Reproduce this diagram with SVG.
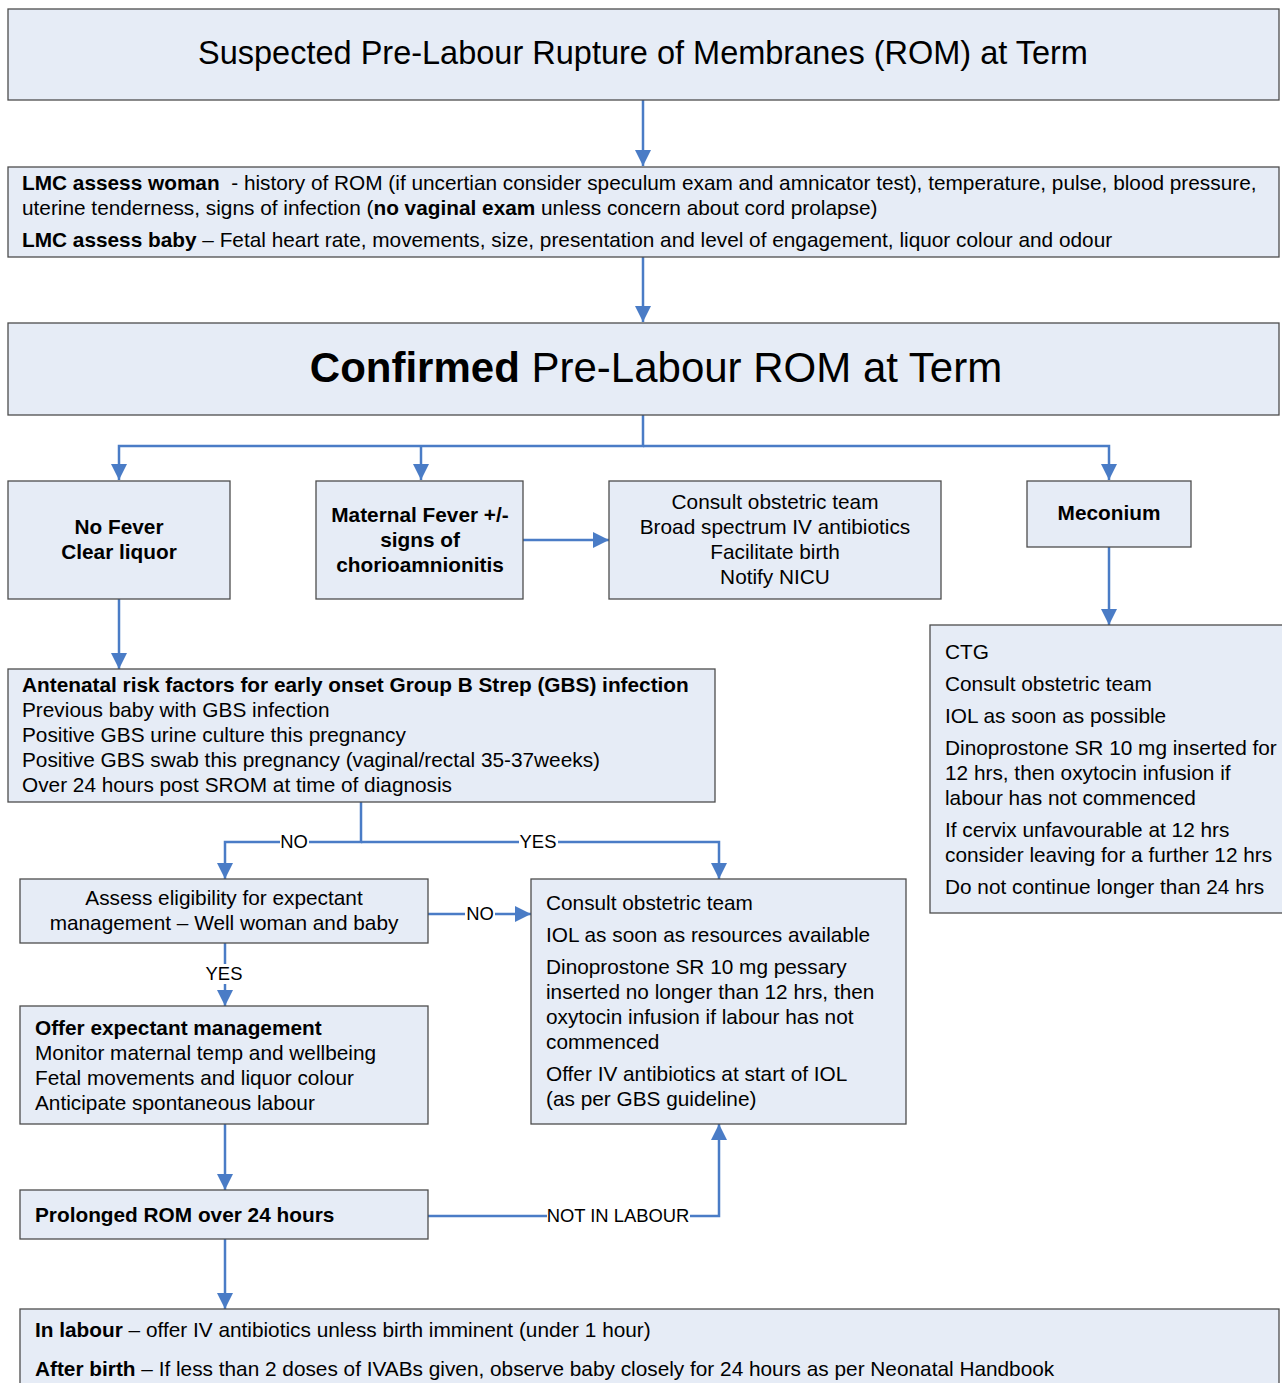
<svg xmlns="http://www.w3.org/2000/svg" width="1282" height="1383" viewBox="0 0 1282 1383">
<style>
.box{fill:#E6ECF6;stroke:#4d4d4d;stroke-width:1.3}
text{font-family:"Liberation Sans",Arial,sans-serif;font-size:20.8px;fill:#000}
.b{font-weight:bold}
.c{text-anchor:middle}
.ln{fill:none;stroke:#4A7CC6;stroke-width:2.5}
.lbl{font-size:18.4px}
</style>
<defs>
<marker id="ah" markerUnits="userSpaceOnUse" markerWidth="18" markerHeight="18" refX="16" refY="8" orient="auto">
<path d="M0,0 L16,8 L0,16 Z" fill="#4A7CC6"/>
</marker>
</defs>
<g id="connectors">
<line class="ln" x1="643" y1="100" x2="643" y2="166" marker-end="url(#ah)"/>
<line class="ln" x1="643" y1="257" x2="643" y2="322" marker-end="url(#ah)"/>
<polyline class="ln" points="643,415 643,446 119,446 119,480" marker-end="url(#ah)"/>
<polyline class="ln" points="421,446 421,480" marker-end="url(#ah)"/>
<polyline class="ln" points="643,446 1109,446 1109,480" marker-end="url(#ah)"/>
<line class="ln" x1="523" y1="540" x2="609" y2="540" marker-end="url(#ah)"/>
<line class="ln" x1="1109" y1="547" x2="1109" y2="625" marker-end="url(#ah)"/>
<line class="ln" x1="119" y1="599" x2="119" y2="669" marker-end="url(#ah)"/>
<polyline class="ln" points="361,802 361,842 225,842 225,879" marker-end="url(#ah)"/>
<polyline class="ln" points="361,842 719,842 719,879" marker-end="url(#ah)"/>
<line class="ln" x1="428" y1="914" x2="531" y2="914" marker-end="url(#ah)"/>
<line class="ln" x1="225" y1="943" x2="225" y2="1006" marker-end="url(#ah)"/>
<line class="ln" x1="225" y1="1124" x2="225" y2="1190" marker-end="url(#ah)"/>
<polyline class="ln" points="428,1216 719,1216 719,1124" marker-end="url(#ah)"/>
<line class="ln" x1="225" y1="1239" x2="225" y2="1309" marker-end="url(#ah)"/>
<g class="lbls">
<rect x="280" y="832" width="29" height="20" fill="#fff"/>
<text class="c lbl" x="294" y="848">NO</text>
<rect x="519" y="832" width="39" height="20" fill="#fff"/>
<text class="c lbl" x="538" y="848">YES</text>
<rect x="465" y="904" width="30" height="20" fill="#fff"/>
<text class="c lbl" x="480" y="920">NO</text>
<rect x="204" y="964" width="40" height="20" fill="#fff"/>
<text class="c lbl" x="224" y="980">YES</text>
<rect x="547" y="1206" width="143" height="20" fill="#fff"/>
<text class="c lbl" x="618" y="1222">NOT IN LABOUR</text>
</g>
</g>
<g id="n1">
<rect class="box" x="8" y="9" width="1271" height="91"/>
<text class="c" x="643" y="64" style="font-size:32.5px">Suspected Pre-Labour Rupture of Membranes (ROM) at Term</text>
</g>
<g id="n2">
<rect class="box" x="8" y="167" width="1271" height="90"/>
<text x="22" y="190"><tspan class="b">LMC assess woman</tspan>&#160; - history of ROM (if uncertian consider speculum exam and amnicator test), temperature, pulse, blood pressure,</text>
<text x="22" y="215">uterine tenderness, signs of infection (<tspan class="b">no vaginal exam</tspan> unless concern about cord prolapse)</text>
<text x="22" y="247"><tspan class="b">LMC assess baby</tspan> – Fetal heart rate, movements, size, presentation and level of engagement, liquor colour and odour</text>
</g>
<g id="n3">
<rect class="box" x="8" y="323" width="1271" height="92"/>
<text class="c" x="656" y="382" style="font-size:42px"><tspan class="b">Confirmed</tspan> Pre-Labour ROM at Term</text>
</g>
<g id="n4">
<rect class="box" x="8" y="481" width="222" height="118"/>
<text class="c b" x="119" y="534">No Fever</text>
<text class="c b" x="119" y="559">Clear liquor</text>
</g>
<g id="n5">
<rect class="box" x="316" y="481" width="207" height="118"/>
<text class="c b" x="420" y="522">Maternal Fever +/-</text>
<text class="c b" x="420" y="547">signs of</text>
<text class="c b" x="420" y="572">chorioamnionitis</text>
</g>
<g id="n6">
<rect class="box" x="609" y="481" width="332" height="118"/>
<text class="c" x="775" y="509">Consult obstetric team</text>
<text class="c" x="775" y="534">Broad spectrum IV antibiotics</text>
<text class="c" x="775" y="559">Facilitate birth</text>
<text class="c" x="775" y="584">Notify NICU</text>
</g>
<g id="n7">
<rect class="box" x="1027" y="481" width="164" height="66"/>
<text class="c b" x="1109" y="520">Meconium</text>
</g>
<g id="n8">
<rect class="box" x="930" y="625" width="360" height="288"/>
<text x="945" y="659">CTG</text>
<text x="945" y="691">Consult obstetric team</text>
<text x="945" y="723">IOL as soon as possible</text>
<text x="945" y="755">Dinoprostone SR 10 mg inserted for</text>
<text x="945" y="780">12 hrs, then oxytocin infusion if</text>
<text x="945" y="805">labour has not commenced</text>
<text x="945" y="837">If cervix unfavourable at 12 hrs</text>
<text x="945" y="862">consider leaving for a further 12 hrs</text>
<text x="945" y="894">Do not continue longer than 24 hrs</text>
</g>
<g id="n9">
<rect class="box" x="8" y="669" width="707" height="133"/>
<text class="b" x="22" y="692">Antenatal risk factors for early onset Group B Strep (GBS) infection</text>
<text x="22" y="717">Previous baby with GBS infection</text>
<text x="22" y="742">Positive GBS urine culture this pregnancy</text>
<text x="22" y="767">Positive GBS swab this pregnancy (vaginal/rectal 35-37weeks)</text>
<text x="22" y="792">Over 24 hours post SROM at time of diagnosis</text>
</g>
<g id="n10">
<rect class="box" x="20" y="879" width="408" height="64"/>
<text class="c" x="224" y="905">Assess eligibility for expectant</text>
<text class="c" x="224" y="930">management – Well woman and baby</text>
</g>
<g id="n11">
<rect class="box" x="531" y="879" width="375" height="245"/>
<text x="546" y="910">Consult obstetric team</text>
<text x="546" y="942">IOL as soon as resources available</text>
<text x="546" y="974">Dinoprostone SR 10 mg pessary</text>
<text x="546" y="999">inserted no longer than 12 hrs, then</text>
<text x="546" y="1024">oxytocin infusion if labour has not</text>
<text x="546" y="1049">commenced</text>
<text x="546" y="1081">Offer IV antibiotics at start of IOL</text>
<text x="546" y="1106">(as per GBS guideline)</text>
</g>
<g id="n12">
<rect class="box" x="20" y="1006" width="408" height="118"/>
<text class="b" x="35" y="1035">Offer expectant management</text>
<text x="35" y="1060">Monitor maternal temp and wellbeing</text>
<text x="35" y="1085">Fetal movements and liquor colour</text>
<text x="35" y="1110">Anticipate spontaneous labour</text>
</g>
<g id="n13">
<rect class="box" x="20" y="1190" width="408" height="49"/>
<text class="b" x="35" y="1222">Prolonged ROM over 24 hours</text>
</g>
<g id="n14">
<rect class="box" x="20" y="1309" width="1259" height="90"/>
<text x="35" y="1337"><tspan class="b">In labour</tspan> – offer IV antibiotics unless birth imminent (under 1 hour)</text>
<text x="35" y="1376"><tspan class="b">After birth</tspan> – If less than 2 doses of IVABs given, observe baby closely for 24 hours as per Neonatal Handbook</text>
</g>
</svg>
